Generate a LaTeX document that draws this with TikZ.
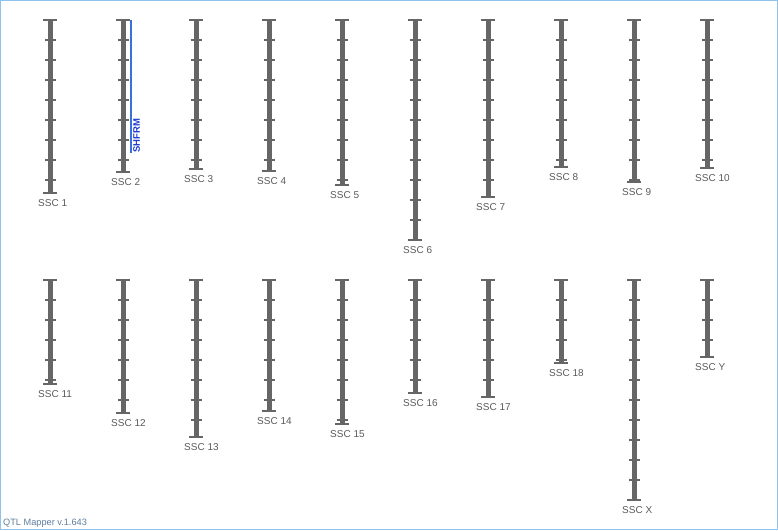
\documentclass[tikz,border=0pt]{standalone}
\usepackage{fontspec}
\setmainfont{Liberation Sans}
\usepackage{tikz}
\usetikzlibrary{calc}
\definecolor{chrgray}{HTML}{666666}
\definecolor{labelgray}{HTML}{5A5A5A}
\definecolor{frameblue}{HTML}{8DC3EC}
\definecolor{qtlblue}{HTML}{3B6FDB}
\definecolor{qtltext}{HTML}{1F3BD0}
\definecolor{versionblue}{HTML}{5F7C9E}
\tikzset{
  chrbar/.style={draw=chrgray, line width=5pt},
  chrcap/.style={draw=chrgray, line width=2pt},
  chrtick/.style={draw=chrgray, line width=1.3pt},
  chrlabel/.style={anchor=west, inner sep=0pt, text=labelgray, font=\fontsize{10}{12}\selectfont},
  qtlline/.style={draw=qtlblue, line width=2pt},
  qtllabel/.style={rotate=90, anchor=west, inner sep=0pt, text=qtltext, font=\fontsize{9.5}{11}\selectfont\bfseries}
}
\begin{document}
\begin{tikzpicture}[x=1pt, y=-1pt]
        \useasboundingbox (0,0) rectangle (778,530);
        \draw[frameblue, line width=1.2pt] (0.6,0.6) rectangle (777.4,529.4);
        \foreach \cx/\cy/\len/\nm [count=\i] in {50/20/173/1, 123/20/152/2, 196/20/149/3, 269/20/151/4, 342/20/165/5, 415/20/220/6, 488/20/177/7, 561/20/147/8, 634/20/162/9, 707/20/148/10, 50/280/104/11, 123/280/133/12, 196/280/157/13, 269/280/131/14, 342/280/144/15, 415/280/113/16, 488/280/117/17, 561/280/83/18, 634/280/220/X, 707/280/77/Y}{
          \coordinate (top\i) at (\cx,\cy);
          \coordinate (bot\i) at (\cx,\cy+\len);
          \draw[chrbar] (top\i) -- (bot\i);
          \draw[chrcap] ($(top\i)+(-7,0)$) -- ($(top\i)+(7,0)$);
          \draw[chrcap] ($(bot\i)+(-7,0)$) -- ($(bot\i)+(7,0)$);
          \pgfmathtruncatemacro{\nt}{(\len-1)/20}
          \foreach \k in {1,...,\nt}{\draw[chrtick] ($(top\i)+(-5.5,20*\k)$) -- ($(top\i)+(5.5,20*\k)$);}
          \node[chrlabel] (lab\i) at ($(bot\i)+(-12,10)$) {SSC \nm};
        }
        \coordinate (qtltop) at (130.7,20);
        \coordinate (qtlbot) at (130.7,152.7);
        \draw[qtlline] (qtltop) -- (qtlbot);
        \node[qtllabel] (shfrm) at ($(qtlbot)+(6,0)$) {SHFRM};
        \node[anchor=west, inner sep=0pt, text=versionblue, font=\fontsize{9.2}{11}\selectfont] (version) at (3,523) {QTL Mapper v.1.643};
      \end{tikzpicture}
\end{document}
